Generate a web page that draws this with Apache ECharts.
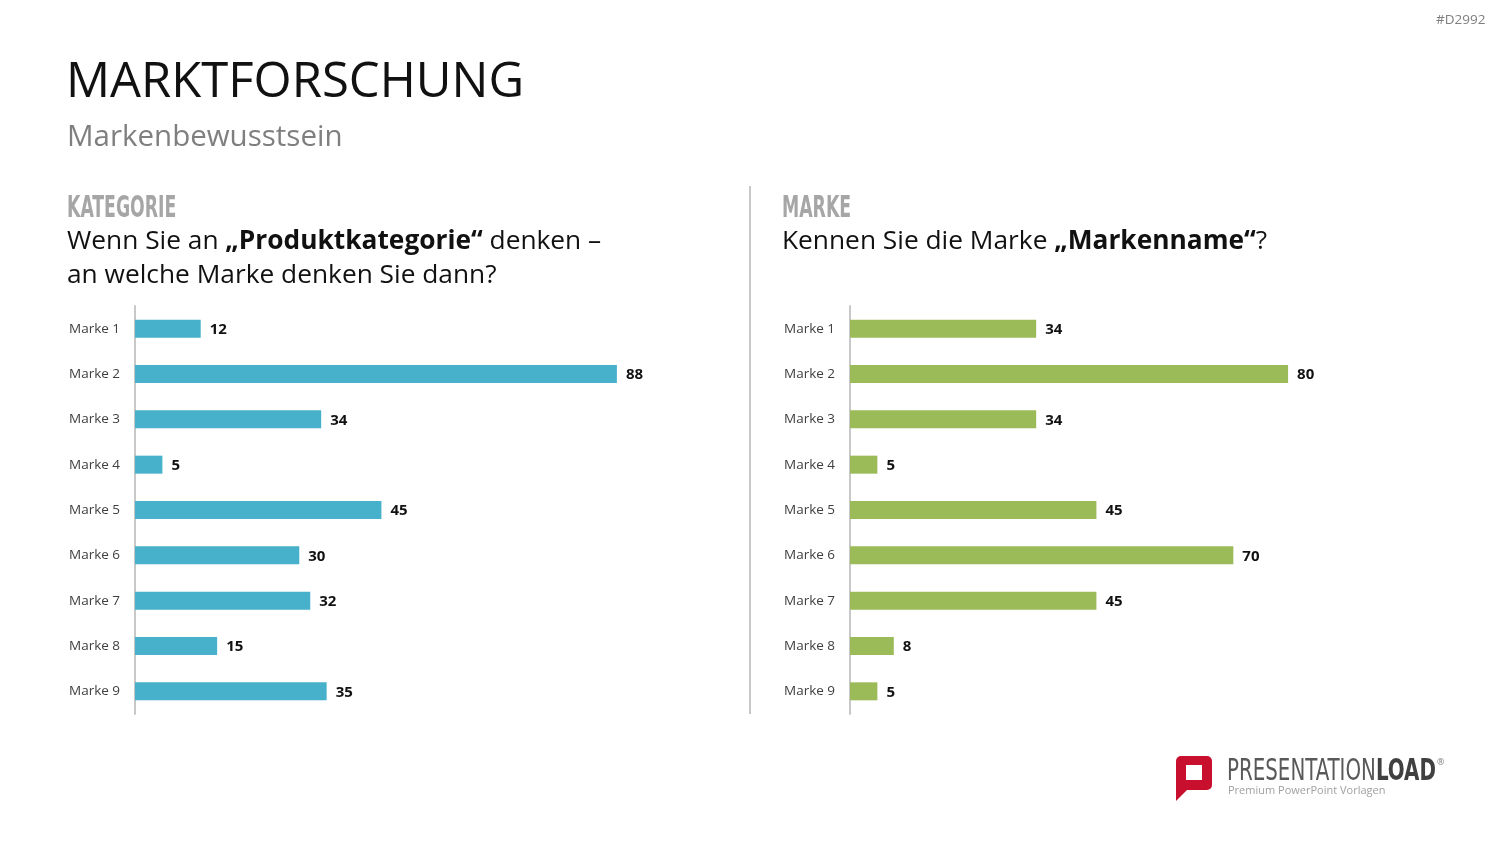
<!DOCTYPE html>
<html>
<head>
<meta charset="utf-8">
<script src="https://cdn.jsdelivr.net/npm/echarts@6/dist/echarts.min.js"></script>
<style>
  html, body { margin: 0; padding: 0; background: #fff; }
  #main { width: 1500px; height: 844px; }
</style>
</head>
<body>
<div id="main"></div>
<script>
// Daten
var marken = ['Marke 1', 'Marke 2', 'Marke 3', 'Marke 4', 'Marke 5', 'Marke 6', 'Marke 7', 'Marke 8', 'Marke 9'];
var kategorieWerte = [12, 88, 34, 5, 45, 30, 32, 15, 35];
var markeWerte = [34, 80, 34, 5, 45, 70, 45, 8, 5];

var font = '"Open Sans", "Noto Sans", sans-serif';
var condensed = '"Liberation Sans Narrow", "DejaVu Sans Condensed", sans-serif';

var chart = echarts.init(document.getElementById('main'));

function yAchse(idx) {
    return {
        type: 'category',
        gridIndex: idx,
        data: marken,
        inverse: true,
        axisLine: { show: true, lineStyle: { color: '#c8c8c8', width: 2 } },
        axisTick: { show: false },
        axisLabel: {
            color: '#404040',
            fontFamily: font,
            fontSize: 13.5,
            align: 'left',
            margin: 66
        }
    };
}

function xAchse(idx) {
    return { type: 'value', gridIndex: idx, min: 0, max: 100, show: false };
}

function balken(idx, werte, farbe) {
    return {
        type: 'bar',
        xAxisIndex: idx,
        yAxisIndex: idx,
        data: werte,
        barWidth: 18,
        itemStyle: { color: farbe },
        label: {
            show: true,
            position: 'right',
            distance: 9,
            offset: [0, 1],
            color: '#111',
            fontFamily: font,
            fontWeight: 'bold',
            fontSize: 15
        }
    };
}

var option = {
    animation: false,
    backgroundColor: '#fff',
    grid: [
        { left: 135, top: 306, width: 547.6, height: 408 },
        { left: 850, top: 306, width: 547.6, height: 408 }
    ],
    xAxis: [xAchse(0), xAchse(1)],
    yAxis: [yAchse(0), yAchse(1)],
    series: [
        balken(0, kategorieWerte, '#47b1cb'),
        balken(1, markeWerte, '#9bbb59')
    ],
    graphic: [
        // Überschrift
        {
            type: 'text', x: 66, y: 59,
            style: { text: 'MARKTFORSCHUNG', font: '49px ' + font, fill: '#111' }
        },
        {
            type: 'text', x: 67, y: 123,
            style: { text: 'Markenbewusstsein', font: '29.5px ' + font, fill: '#7f7f7f' }
        },
        {
            type: 'text', x: 1436, y: 13,
            style: { text: '#D2992', font: '13.5px ' + font, fill: '#7f7f7f' }
        },
        // Trennlinie
        {
            type: 'line', shape: { x1: 750, y1: 186, x2: 750, y2: 714 },
            style: { stroke: '#c8c8c8', lineWidth: 2 }
        },
        // linke Spalte
        {
            type: 'text', x: 67, y: 193, scaleX: 0.62,
            style: { text: 'KATEGORIE', font: 'bold 31px ' + condensed, fill: '#a6a6a6' }
        },
        {
            type: 'text', x: 67, y: 225,
            style: {
                text: '{n|Wenn Sie an }{b|„Produktkategorie“}{n| denken –}\n{n|an welche Marke denken Sie dann?}',
                rich: {
                    n: { font: '26.3px ' + font, fill: '#111', lineHeight: 34 },
                    b: { font: 'bold 26.3px ' + font, fill: '#111', lineHeight: 34 }
                }
            }
        },
        // rechte Spalte
        {
            type: 'text', x: 782, y: 193, scaleX: 0.62,
            style: { text: 'MARKE', font: 'bold 31px ' + condensed, fill: '#a6a6a6' }
        },
        {
            type: 'text', x: 782, y: 225,
            style: {
                text: '{n|Kennen Sie die Marke }{b|„Markenname“}{n|?}',
                rich: {
                    n: { font: '26.3px ' + font, fill: '#111', lineHeight: 34 },
                    b: { font: 'bold 26.3px ' + font, fill: '#111', lineHeight: 34 }
                }
            }
        },
        // Logo
        {
            type: 'rect', shape: { x: 1176, y: 756, width: 36, height: 34, r: 5 },
            style: { fill: '#c8102e' }
        },
        {
            type: 'polygon', shape: { points: [[1176, 780], [1188, 789], [1176, 801]] },
            style: { fill: '#c8102e' }
        },
        {
            type: 'rect', shape: { x: 1186, y: 765, width: 16, height: 15 },
            style: { fill: '#fff' }
        },
        {
            type: 'text', x: 1227, y: 757, scaleX: 0.735,
            style: {
                text: '{a|PRESENTATION}{b|LOAD}',
                rich: {
                    a: { font: '30px ' + condensed, fill: '#595959' },
                    b: { font: 'bold 30px ' + condensed, fill: '#404040' }
                }
            }
        },
        {
            type: 'text', x: 1437, y: 758,
            style: { text: '®', font: '9px ' + font, fill: '#7f7f7f' }
        },
        {
            type: 'text', x: 1228, y: 785,
            style: { text: 'Premium PowerPoint Vorlagen', font: '11px ' + font, fill: '#a0a0a0' }
        }
    ]
};

chart.setOption(option);
</script>
</body>
</html>
